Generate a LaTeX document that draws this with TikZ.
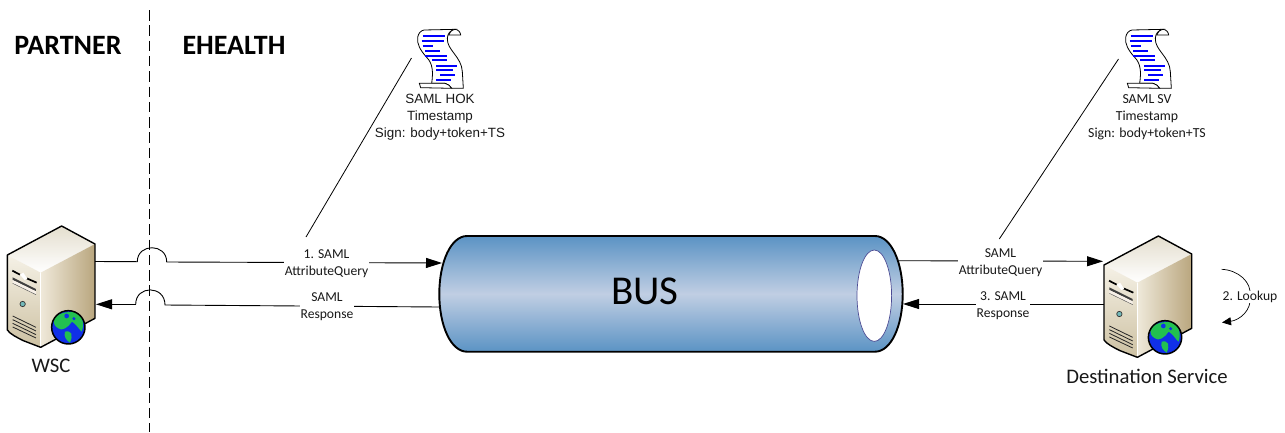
\documentclass[tikz,border=0pt]{standalone}
\usepackage{fontspec}
\setmainfont{Carlito}
\newfontfamily\arialfont{Liberation Sans}
\usetikzlibrary{arrows.meta}
\definecolor{busedge}{HTML}{5B93C4}
\definecolor{busmid}{HTML}{C0CEE3}
\definecolor{globeblue}{HTML}{1030E8}
\definecolor{globegreen}{HTML}{22C050}
\definecolor{srvlight}{HTML}{F5F1E6}
\definecolor{srvmid}{HTML}{EFE9DA}
\definecolor{srvdark}{HTML}{B9A67E}
\definecolor{srvfront}{HTML}{CDC1A2}
\definecolor{srvtop}{HTML}{E4DECE}
\tikzset{
  conn/.style={line width=0.9pt,black},
  arrowconn/.style={conn,-{Triangle[length=16pt,width=10pt]}},
  msg/.style={fill=white,inner xsep=1pt,inner ysep=0pt,align=center,font=\fontsize{13.6}{17}\selectfont,text=black!90},
  heading/.style={font=\fontsize{28}{30}\selectfont\bfseries},
  caption/.style={font=\fontsize{20.7}{24}\selectfont,text=black!90},
  docnote/.style={align=center,text=black!90},
  edgeln/.style={line width=1.4pt,black,line join=round},
  detail/.style={line width=0.8pt,black!85},
}
\newcommand{\serverart}[2]{%
\begin{scope}[shift={(#1,#2)},x=0.3333pt,y=-0.3333pt]
  % top face
  \shade[top color=srvtop,bottom color=white] (22,105) -- (185,18) -- (285,72) -- (122,158) -- cycle;
  % right face
  \shade[left color=srvmid,right color=srvdark] (122,158) -- (285,72) -- (285,295) -- (122,382) -- cycle;
  % front face
  \shade[top color=srvlight,bottom color=srvfront] (22,105) -- (122,158) -- (122,382) -- (70,362) .. controls (50,352) and (30,342) .. (22,330) -- cycle;
  \draw[white,line width=0.9pt] (122,158) -- (122,382);
  \draw[edgeln] (22,105) -- (185,18) -- (285,72) -- (285,295) -- (122,382) -- (70,362) .. controls (50,352) and (30,342) .. (22,330) -- cycle;
  % front panel
  \draw[black,line width=1.7pt] (37,152) -- (60,164);
  \draw[black,line width=1.7pt] (80,175) -- (110,188);
  \fill[white] (60,164) -- (70,158) -- (82,176) -- (74,180) -- cycle;
  \fill[black!75] (38,172) -- (108,207) -- (108,214) -- (38,180) -- cycle;
  \fill[white!88!brown] (38,180) -- (108,214) -- (108,224) -- (38,190) -- cycle;
  \draw[black!70,line width=0.4pt] (38,190) -- (108,224);
  \filldraw[fill=teal!55!white,draw=black!80,line width=0.7pt] (68,252) circle (8);
  \draw[detail] (38,288) -- (108,322);
  \draw[detail] (38,299) -- (108,333);
  \draw[detail] (38,310) -- (108,344);
  \draw[detail] (38,321) -- (108,354);
  % globe
  \begin{scope}
    \clip (205,322) circle (50);
    \fill[globeblue] (205,322) circle (50);
    \fill[globegreen] (160,300) .. controls (170,280) and (200,272) .. (235,278) .. controls (250,290) and (252,320) .. (245,335) .. controls (235,325) and (228,312) .. (216,305) .. controls (205,322) and (185,335) .. (175,325) .. controls (165,320) and (160,310) .. (160,300) -- cycle;
    \fill[globegreen] (195,335) .. controls (215,330) and (220,345) .. (210,368) .. controls (200,362) and (190,350) .. (195,335) -- cycle;
    \fill[globeblue] (200,288) circle (7);
    \fill[globeblue] (222,296) circle (5);
  \end{scope}
  \draw[black,line width=1.5pt] (205,322) circle (50);
\end{scope}}
\newcommand{\scrollart}[2]{%
\begin{scope}[shift={(#1,#2)},x=0.3333pt,y=-0.3333pt]
  \filldraw[fill=white,draw=black,line width=0.8pt]
    (72,90) -- (165,88) .. controls (150,92) and (143,100) .. (142,115)
    .. controls (140,150) and (185,170) .. (187,215)
    -- (190,265) -- (155,265) .. controls (150,258) and (145,252) .. (135,250)
    -- (95,250) .. controls (100,215) and (98,190) .. (80,172)
    .. controls (60,150) and (50,130) .. (53,112) .. controls (55,100) and (62,92) .. (72,90) -- cycle;
  \filldraw[fill=white,draw=black,line width=0.8pt] (165,88) .. controls (175,88) and (182,98) .. (182,105) -- (146,105) .. controls (148,97) and (155,90) .. (165,88) -- cycle;
  \filldraw[fill=white,draw=black,line width=0.8pt] (58,250) -- (135,250) .. controls (145,252) and (150,258) .. (155,265) -- (62,263) -- cycle;
  \foreach \a/\b/\c in {68/135/107,65/132/122,68/100/137,75/120/152,75/140/167,97/142/180,108/172/197,108/160/210,120/165/224,108/153/239}
    \draw[blue,line width=1.9pt] (\a,\c) -- (\b,\c);
\end{scope}}
\begin{document}
\begin{tikzpicture}[x=1pt,y=-1pt]
\useasboundingbox (0,0) rectangle (1285,432);
\fill[white] (0,0) rectangle (1285,432);

% named anchor points
\coordinate (wscA) at (95,261.5);
\coordinate (hopAin) at (137.3,261.7);
\coordinate (hopAout) at (166.7,262);
\coordinate (wscB) at (96,304.3);
\coordinate (hopBin) at (165,305);
\coordinate (hopBout) at (135.7,304.3);
\coordinate (busLa) at (442,263);
\coordinate (busLb) at (439.5,307);
\coordinate (busRa) at (899,260.7);
\coordinate (busRb) at (903,304);
\coordinate (dstA) at (1103,261.3);
\coordinate (dstB) at (1103.5,304);
\coordinate (noteA) at (411.5,58);
\coordinate (noteB) at (1118.5,59);
\coordinate (lookA) at (1221.7,269.3);
\coordinate (lookB) at (1222,322.5);
\coordinate (sepTop) at (149.3,10);
\coordinate (sepBot) at (149.3,432);

% separator
\draw[line width=1.1pt,dash pattern=on 10.5pt off 4.8pt] (sepTop) -- (sepBot);

% diagonal leaders
\draw[conn,line width=0.8pt] (noteA) -- (306,237);
\draw[conn,line width=0.8pt] (noteB) -- (999.3,239);

% connectors
\draw[conn] (wscA) -- (hopAin) .. controls (137.3,243) and (166.7,243) .. (hopAout);
\draw[arrowconn] (hopAout) -- (busLa);
\draw[conn] (busLb) -- (hopBin) .. controls (165,285) and (135.7,285) .. (hopBout);
\draw[arrowconn] (hopBout) -- (wscB);
\draw[arrowconn] (busRa) -- (dstA);
\draw[arrowconn] (dstB) -- (busRb);

% bus
\path[draw=black,line width=1.9pt,top color=busedge,bottom color=busedge,middle color=busmid]
  (467,236) -- (875,236) .. controls (891,236) and (902.7,262) .. (902.7,294)
  .. controls (902.7,326) and (891,351.7) .. (875,351.7) -- (467,351.7)
  .. controls (451,351.7) and (439.3,326) .. (439.3,294) .. controls (439.3,262) and (451,236) .. (467,236) -- cycle;
\filldraw[fill=white,draw=black!60!blue!70,line width=0.7pt] (874.3,295.7) ellipse [x radius=17.3,y radius=45.7];
\node (bus) at (645,291) {\fontsize{41}{45}\selectfont BUS};

% labels on connectors
\node[msg] (m1) at (326.5,264) {1. SAML\\AttributeQuery};
\node[msg] (m2) at (327,306.5) {SAML\\Response};
\node[msg] (m3) at (1000.5,262.5) {SAML\\AttributeQuery};
\node[msg] (m4) at (1003,305.5) {3. SAML\\Response};

% servers
\serverart{0}{220}
\serverart{1096.7}{230}

% lookup loop
\draw[conn,line width=0.7pt,-{Triangle[length=9pt,width=8pt]}] (lookA) .. controls (1238,270) and (1252,282) .. (1250,296) .. controls (1252,310) and (1240,320) .. (lookB);
\node[msg] (lookup) at (1250,297) {2. Lookup};

% scrolls
\scrollart{400}{0}
\scrollart{1108}{0}
\node[docnote,font=\arialfont\fontsize{13.4}{17}\selectfont] (hok) at (440,117) {SAML HOK\\Timestamp\\Sign: body+token+TS};
\node[docnote,font=\fontsize{13.8}{17}\selectfont] (sv) at (1147,117) {SAML SV\\Timestamp\\Sign: body+token+TS};

% headings
\node[heading] (partner) at (68,45) {PARTNER};
\node[heading] (ehealth) at (234,45) {EHEALTH};
\node[caption] (wsc) at (51,366) {WSC};
\node[caption] (dest) at (1147,376) {Destination Service};
\end{tikzpicture}
\end{document}
